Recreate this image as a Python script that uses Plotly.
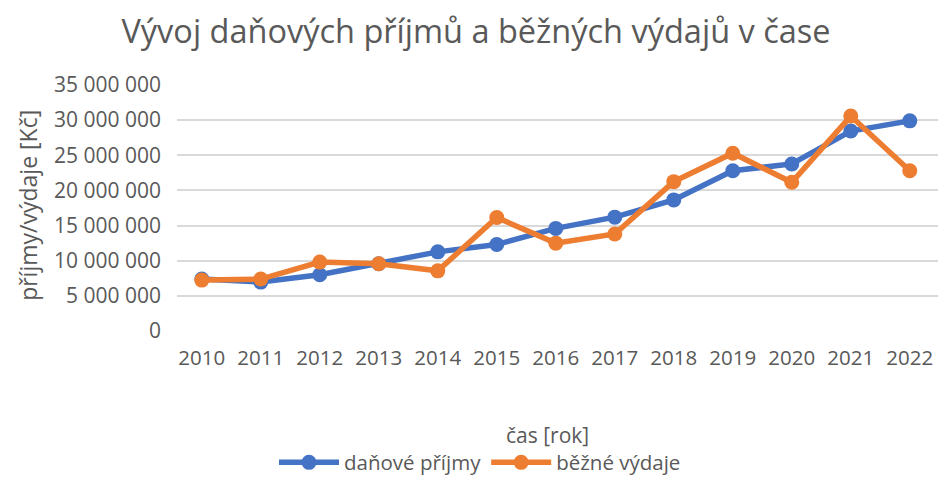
import plotly.graph_objects as go

roky = ["2010", "2011", "2012", "2013", "2014", "2015", "2016", "2017", "2018", "2019", "2020", "2021", "2022"]
danove_prijmy = [7400000, 6960000, 8000000, 9560000, 11260000, 12300000, 14600000, 16200000,
                 18650000, 22800000, 23770000, 28450000, 29900000]
bezne_vydaje = [7240000, 7390000, 9800000, 9560000, 8560000, 16140000, 12500000, 13800000,
                21250000, 25300000, 21160000, 30580000, 22800000]
y_ticks = [0, 5000000, 10000000, 15000000, 20000000, 25000000, 30000000, 35000000]

TXT = "#595959"
FONT = "Open Sans"

# page has an 8px body margin -> figure is 930x468 so the page fits 946x484 exactly
W, H = 930, 468
L, T, B = 169, 77, 144.7
PW = W - L
PH = H - T - B
STEP = 59.0

fig = go.Figure()
fig.add_trace(go.Scatter(
    x=roky, y=danove_prijmy, name="daňové příjmy", mode="lines+markers",
    line=dict(color="#4472C4", width=5.5), marker=dict(size=15, color="#4472C4"),
))
fig.add_trace(go.Scatter(
    x=roky, y=bezne_vydaje, name="běžné výdaje", mode="lines+markers",
    line=dict(color="#ED7D31", width=5.5), marker=dict(size=15, color="#ED7D31"),
))

fig.update_layout(
    width=W, height=H,
    margin=dict(l=L, r=0, t=T, b=B, autoexpand=False),
    paper_bgcolor="white", plot_bgcolor="white",
    separators=". ",
    font=dict(family=FONT, color=TXT, size=21),
    title=dict(text="Vývoj daňových příjmů a běžných výdajů v čase",
               font=dict(family=FONT, size=32.5, color=TXT),
               x=468 / W, xanchor="center", y=1 - 24 / H, yanchor="middle"),
    showlegend=True,
    legend=dict(orientation="h", x=(472 - L) / PW, xanchor="center",
                y=-(455 - (H - B)) / PH, yanchor="middle",
                font=dict(size=20.5, color=TXT), itemwidth=60, traceorder="normal"),
    xaxis=dict(type="category", range=[-0.42, -0.42 + PW / STEP], showgrid=False, zeroline=False,
               showline=False, ticks="", tickfont=dict(size=20.5, color=TXT),
               ticklabelstandoff=12),
    yaxis=dict(range=[0, 35000000], tickvals=y_ticks, tickformat=",d",
               showgrid=True, gridcolor="#D9D9D9", gridwidth=1.5, zeroline=False,
               showline=False, ticks="", tickfont=dict(size=21, color=TXT),
               ticklabelstandoff=15),
    annotations=[
        dict(text="příjmy/výdaje [Kč]", textangle=-90, xref="paper", yref="paper",
             x=(20 - L) / PW, y=((H - B) - 198) / PH, xanchor="center", yanchor="middle",
             showarrow=False, font=dict(size=23, color=TXT)),
        dict(text="čas [rok]", xref="paper", yref="paper",
             x=(539 - L) / PW, y=-(427 - (H - B)) / PH, xanchor="center", yanchor="middle",
             showarrow=False, font=dict(size=21, color=TXT)),
    ],
)

fig.write_html("out.html")
